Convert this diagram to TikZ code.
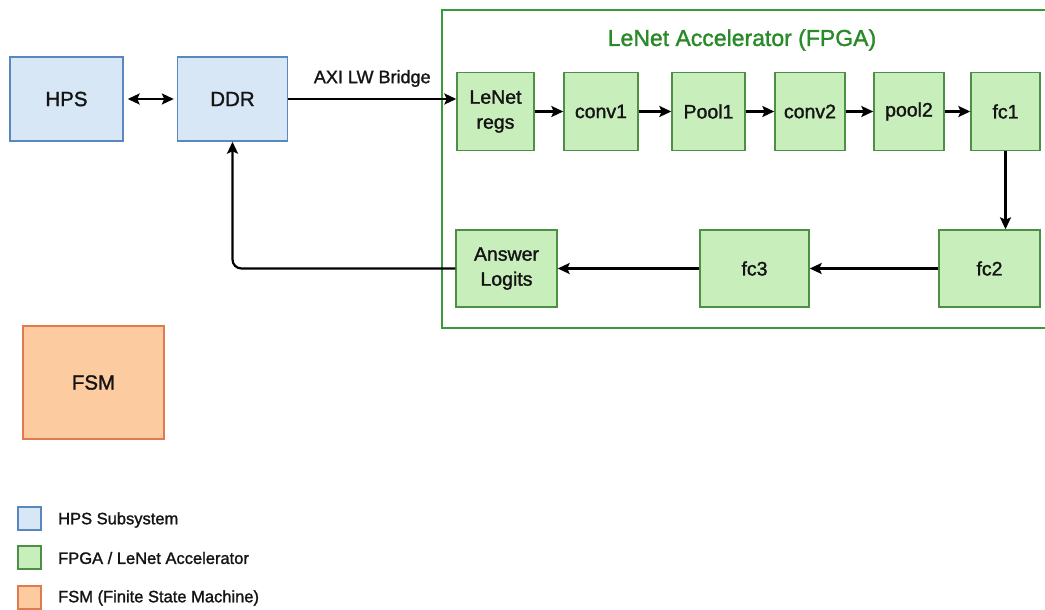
\documentclass[tikz,border=0pt]{standalone}
\usepackage{fontspec}
\setmainfont{Liberation Sans}[FakeBold=1.4]
\usetikzlibrary{arrows.meta}
\definecolor{hpsfill}{HTML}{D7E7F6}
\definecolor{hpsdraw}{HTML}{5A87BD}
\definecolor{fpgafill}{HTML}{C8EEBB}
\definecolor{fpgadraw}{HTML}{4E8F46}
\definecolor{outergreen}{HTML}{3A9A3A}
\definecolor{titlegreen}{HTML}{2A8A2A}
\definecolor{fsmfill}{HTML}{FCCB9F}
\definecolor{fsmdraw}{HTML}{E07A4F}
\definecolor{txt}{HTML}{141414}
\tikzset{
  hpsbox/.style={draw=hpsdraw, fill=hpsfill, line width=1.4pt, minimum height=84pt, text=txt, font=\fontsize{20.5}{24}\selectfont, inner sep=0pt},
  fpgabox/.style={draw=fpgadraw, fill=fpgafill, line width=1.4pt, minimum height=78pt, text=txt, font=\fontsize{19.5}{25}\selectfont, align=center, inner sep=0pt},
  fsmbox/.style={draw=fsmdraw, fill=fsmfill, line width=1.4pt, text=txt, font=\fontsize{20.5}{24}\selectfont, inner sep=0pt},
  legbox/.style={line width=1.4pt, minimum width=23pt, minimum height=23pt, inner sep=0pt},
  legtext/.style={anchor=west, text=txt, font=\fontsize{16.5}{20}\selectfont, inner sep=0pt},
  conn/.style={line width=2.2pt, draw=black, -{Stealth[length=12pt,width=11pt,inset=2.5pt]}},
}
\begin{document}
\begin{tikzpicture}[x=1pt,y=-1pt]
\useasboundingbox (0,0) rectangle (1045,610);
\fill[white] (0,0) rectangle (1045,610);

% outer FPGA frame
\draw[outergreen, line width=2.6pt] (1050,10) -- (442,10) -- (442,328) -- (1050,328);
\node[text=titlegreen, font=\fontsize{23}{27}\selectfont, inner sep=0pt] (title) at (742,40) {LeNet Accelerator (FPGA)};

% HPS subsystem
\node[hpsbox, minimum width=113pt] (hps) at (66.5,99) {HPS};
\node[hpsbox, minimum width=110pt] (ddr) at (232.5,99) {DDR};

% accelerator row 1
\node[fpgabox, minimum width=77pt] (regs) at (495.5,111.5) {LeNet\\regs};
\node[fpgabox, minimum width=74pt] (conv1) at (601,111.5) {conv1};
\node[fpgabox, minimum width=73pt] (pool1) at (708.5,111.5) {Pool1};
\node[fpgabox, minimum width=70pt] (conv2) at (810,111.5) {conv2};
\node[fpgabox, minimum width=70pt] (pool2) at (909,111.5) {pool2};
\node[fpgabox, minimum width=69pt] (fc1) at (1005.5,111.5) {fc1};

% accelerator row 2
\node[fpgabox, minimum width=101pt, minimum height=77pt] (ans) at (506.5,268.5) {Answer\\Logits};
\node[fpgabox, minimum width=109pt, minimum height=77pt] (fc3) at (754.5,268.5) {fc3};
\node[fpgabox, minimum width=101pt, minimum height=77pt] (fc2) at (989.5,268.5) {fc2};

% FSM
\node[fsmbox, minimum width=141pt, minimum height=113pt] (fsm) at (93.5,382.5) {FSM};

% connectors
\draw[line width=2.2pt, {Stealth[length=12pt,width=11pt,inset=2.5pt]}-{Stealth[length=12pt,width=11pt,inset=2.5pt]}, shorten <=4pt, shorten >=3pt] (hps.east) -- (ddr.west);
\draw[conn] (ddr.east) -- node[above=11pt, text=txt, font=\fontsize{18}{22}\selectfont, inner sep=0pt] (axi) {AXI LW Bridge} (ddr.east -| regs.west);
\draw[conn] (regs) -- (conv1);
\draw[conn] (conv1) -- (pool1);
\draw[conn] (pool1) -- (conv2);
\draw[conn] (conv2) -- (pool2);
\draw[conn] (pool2) -- (fc1);
\draw[conn] (fc1.south) -- (fc1.south |- fc2.north);
\draw[conn] (fc2) -- (fc3);
\draw[conn] (fc3) -- (ans);
\draw[conn, rounded corners=9pt] (ans.west) -| (ddr.south);

% legend
\node[legbox, draw=hpsdraw, fill=hpsfill] (l1) at (29.5,518.5) {};
\node[legtext] (t1) at (58,520) {HPS Subsystem};
\node[legbox, draw=fpgadraw, fill=fpgafill] (l2) at (29.5,557.5) {};
\node[legtext] (t2) at (58,558) {FPGA / LeNet Accelerator};
\node[legbox, draw=fsmdraw, fill=fsmfill] (l3) at (29.5,597.5) {};
\node[legtext] (t3) at (58,598) {FSM (Finite State Machine)};
\end{tikzpicture}
\end{document}
